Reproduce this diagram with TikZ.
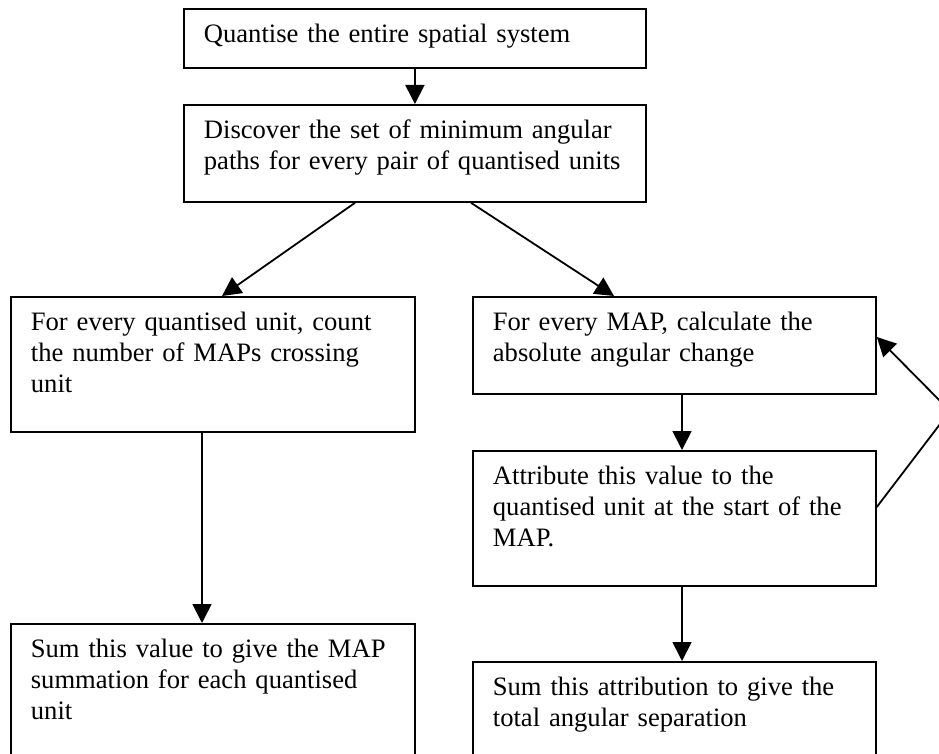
\documentclass[tikz,border=0pt]{standalone}
\usepackage{fontspec}
\setmainfont{Liberation Serif}
\usetikzlibrary{arrows.meta}

\begin{document}
\begin{tikzpicture}[x=1pt,y=-1pt,
        box/.style={draw,line width=1.8pt,anchor=north west,align=left,inner xsep=20pt,inner ysep=0pt,
            text height=34pt,font=\fontsize{26.6}{30.8}\selectfont},
        arr/.style={line width=1.8pt,-{Triangle[length=19pt,width=19pt]}}]
        \useasboundingbox (0,0) rectangle (939,754);
        \clip (0,0) rectangle (939,754);
        \node[box,text width=422pt,text depth=25pt] (quant) at (183,8) {Quantise the entire spatial system};
        \node[box,text width=422pt,text depth=63pt] (discover) at (183,104)
            {Discover the set of minimum angular\\paths for every pair of quantised units};
        \node[box,text width=364pt,text depth=101pt] (count) at (10,296)
            {For every quantised unit, count\\the number of MAPs crossing\\unit};
        \node[box,text width=363pt,text depth=63pt] (absang) at (472,296)
            {For every MAP, calculate the\\absolute angular change};
        \node[box,text width=363pt,text depth=101pt] (attrib) at (472,450)
            {Attribute this value to the\\quantised unit at the start of the\\MAP.};
        \node[box,text width=364pt,text depth=133pt] (mapsum) at (10,623)
            {Sum this value to give the MAP\\summation for each quantised\\unit};
        \node[box,text width=363pt,text depth=100pt] (totsep) at (472,661)
            {Sum this attribution to give the\\total angular separation};
        \coordinate (loop) at (950,411);
        \draw[arr] (quant) -- (discover);
        \draw[arr] ([xshift=172pt]discover.south west) -- ([xshift=212pt]count.north west);
        \draw[arr] ([xshift=288pt]discover.south west) -- ([xshift=142pt]absang.north west);
        \draw[arr] ([xshift=192pt]count.south west) -- ([xshift=192pt]mapsum.north west);
        \draw[arr] ([xshift=210pt]absang.south west) -- ([xshift=210pt]attrib.north west);
        \draw[arr] ([xshift=210pt]attrib.south west) -- ([xshift=210pt]totsep.north west);
        \draw[arr] ([yshift=-57pt]attrib.north east) -- (loop) -- ([yshift=-41pt]absang.north east);
    \end{tikzpicture}
\end{document}
